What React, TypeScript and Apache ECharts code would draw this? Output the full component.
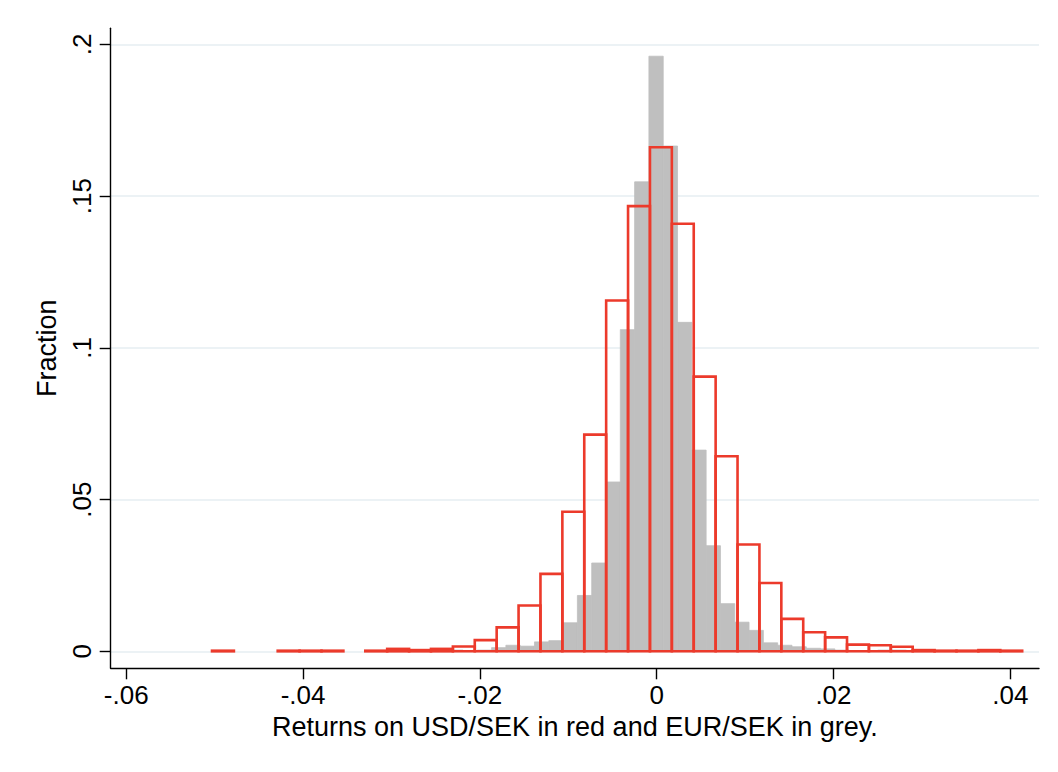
import React, { useEffect, useRef } from "react";
import * as echarts from "echarts";

// USD/SEK daily returns: histogram bins (fraction of observations per bin)
const usdSekBinStart = -0.0503;
const usdSekBinWidth = 0.002477;
const usdSekFraction = [
  0.0002, 0, 0, 0.0002, 0.0002, 0.0002, 0, 0.0002, 0.0008, 0.0004,
  0.0008, 0.0016, 0.0037, 0.0079, 0.0151, 0.0255, 0.046, 0.0714, 0.1156, 0.1467,
  0.1661, 0.1409, 0.0905, 0.0643, 0.0352, 0.0225, 0.0107, 0.0063, 0.0046, 0.0022,
  0.002, 0.0015, 0.0004, 0.0002, 0.0002, 0.0004, 0.0002,
];

// EUR/SEK daily returns: histogram bins (fraction of observations per bin)
const eurSekBinStart = -0.030;
const eurSekBinWidth = 0.001618;
const eurSekFraction = [
  0.0004, 0.0004, 0, 0, 0.0004, 0, 0.0004, 0.0012, 0.002, 0.0017,
  0.0031, 0.0035, 0.0094, 0.0184, 0.0291, 0.0558, 0.106, 0.1547, 0.1961, 0.1665,
  0.1084, 0.0663, 0.0348, 0.0157, 0.0096, 0.0069, 0.0028, 0.002, 0.0015, 0.001,
  0.0008, 0.0004, 0, 0, 0.0004, 0.0004,
];

// Axis ticks and labels
const xTickValues = [-0.06, -0.04, -0.02, 0, 0.02, 0.04];
const xTickLabels = ["-.06", "-.04", "-.02", "0", ".02", ".04"];
const yTickValues = [0, 0.05, 0.1, 0.15, 0.2];
const yTickLabels = ["0", ".05", ".1", ".15", ".2"];

const xTitle = "Returns on USD/SEK in red and EUR/SEK in grey.";
const yTitle = "Fraction";

const FONT = "'Liberation Sans', Arial, Helvetica, sans-serif";
const RED = "#ec3a2b";
const GREY = "#bfbfbf";

function binsToData(start: number, width: number, values: number[]) {
  const out: number[][] = [];
  values.forEach((v, i) => {
    if (v > 0) out.push([start + i * width, start + (i + 1) * width, v]);
  });
  return out;
}

function labelFor(values: number[], labels: string[]) {
  return (v: number) => {
    const i = values.findIndex((t) => Math.abs(t - v) < 1e-9);
    return i >= 0 ? labels[i] : "";
  };
}

function makeRenderItem(style: any) {
  return (params: any, api: any) => {
    const x0 = api.value(0);
    const x1 = api.value(1);
    const v = api.value(2);
    const p0 = api.coord([x0, 0]);
    const p1 = api.coord([x1, v]);
    return {
      type: "rect",
      shape: {
        x: p0[0],
        y: p1[1],
        width: p1[0] - p0[0],
        height: p0[1] - p1[1],
      },
      style,
    };
  };
}

export default function App() {
  const ref = useRef<HTMLDivElement>(null);

  useEffect(() => {
    if (!ref.current) return;
    const chart = echarts.init(ref.current, null, { renderer: "svg" });
    chart.setOption({
      animation: false,
      backgroundColor: "#ffffff",
      grid: { left: 110.7, top: 28.3, right: 19, bottom: 103.7 },
      xAxis: {
        type: "value",
        min: -0.06176,
        max: 0.04325,
        name: xTitle,
        nameLocation: "middle",
        nameGap: 44,
        nameTextStyle: { fontFamily: FONT, fontSize: 27, color: "#000" },
        axisLine: { show: true, onZero: false, lineStyle: { color: "#000", width: 1.4 } },
        axisTick: {
          show: true,
          length: 11,
          customValues: xTickValues,
          lineStyle: { color: "#000", width: 1.4 },
        },
        axisLabel: {
          customValues: xTickValues,
          formatter: labelFor(xTickValues, xTickLabels),
          fontFamily: FONT,
          fontSize: 26,
          color: "#000",
          margin: 14,
        },
        splitLine: { show: false },
      },
      yAxis: {
        type: "value",
        min: -0.0056,
        max: 0.2053,
        name: yTitle,
        nameLocation: "middle",
        nameGap: 46,
        nameTextStyle: { fontFamily: FONT, fontSize: 27, color: "#000" },
        axisLine: { show: true, onZero: false, lineStyle: { color: "#000", width: 1.4 } },
        axisTick: {
          show: true,
          length: 11,
          customValues: yTickValues,
          lineStyle: { color: "#000", width: 1.4 },
        },
        axisLabel: {
          customValues: yTickValues,
          formatter: labelFor(yTickValues, yTickLabels),
          rotate: 90,
          fontFamily: FONT,
          fontSize: 26,
          color: "#000",
          margin: 16,
        },
        splitLine: { show: true, lineStyle: { color: "#e6eef2", width: 1.6 } },
      },
      series: [
        {
          type: "custom",
          name: "EUR/SEK",
          renderItem: makeRenderItem({ fill: GREY, stroke: GREY, lineWidth: 0.8 }),
          encode: { x: [0, 1], y: 2 },
          data: binsToData(eurSekBinStart, eurSekBinWidth, eurSekFraction),
          z: 2,
        },
        {
          type: "custom",
          name: "USD/SEK",
          renderItem: makeRenderItem({ fill: "none", stroke: RED, lineWidth: 2.6 }),
          encode: { x: [0, 1], y: 2 },
          data: binsToData(usdSekBinStart, usdSekBinWidth, usdSekFraction),
          z: 3,
        },
      ],
    });
    return () => chart.dispose();
  }, []);

  return (
    <div
      ref={ref}
      style={{ position: "absolute", left: 0, top: 0, width: 1058, height: 772, background: "#fff" }}
    />
  );
}
